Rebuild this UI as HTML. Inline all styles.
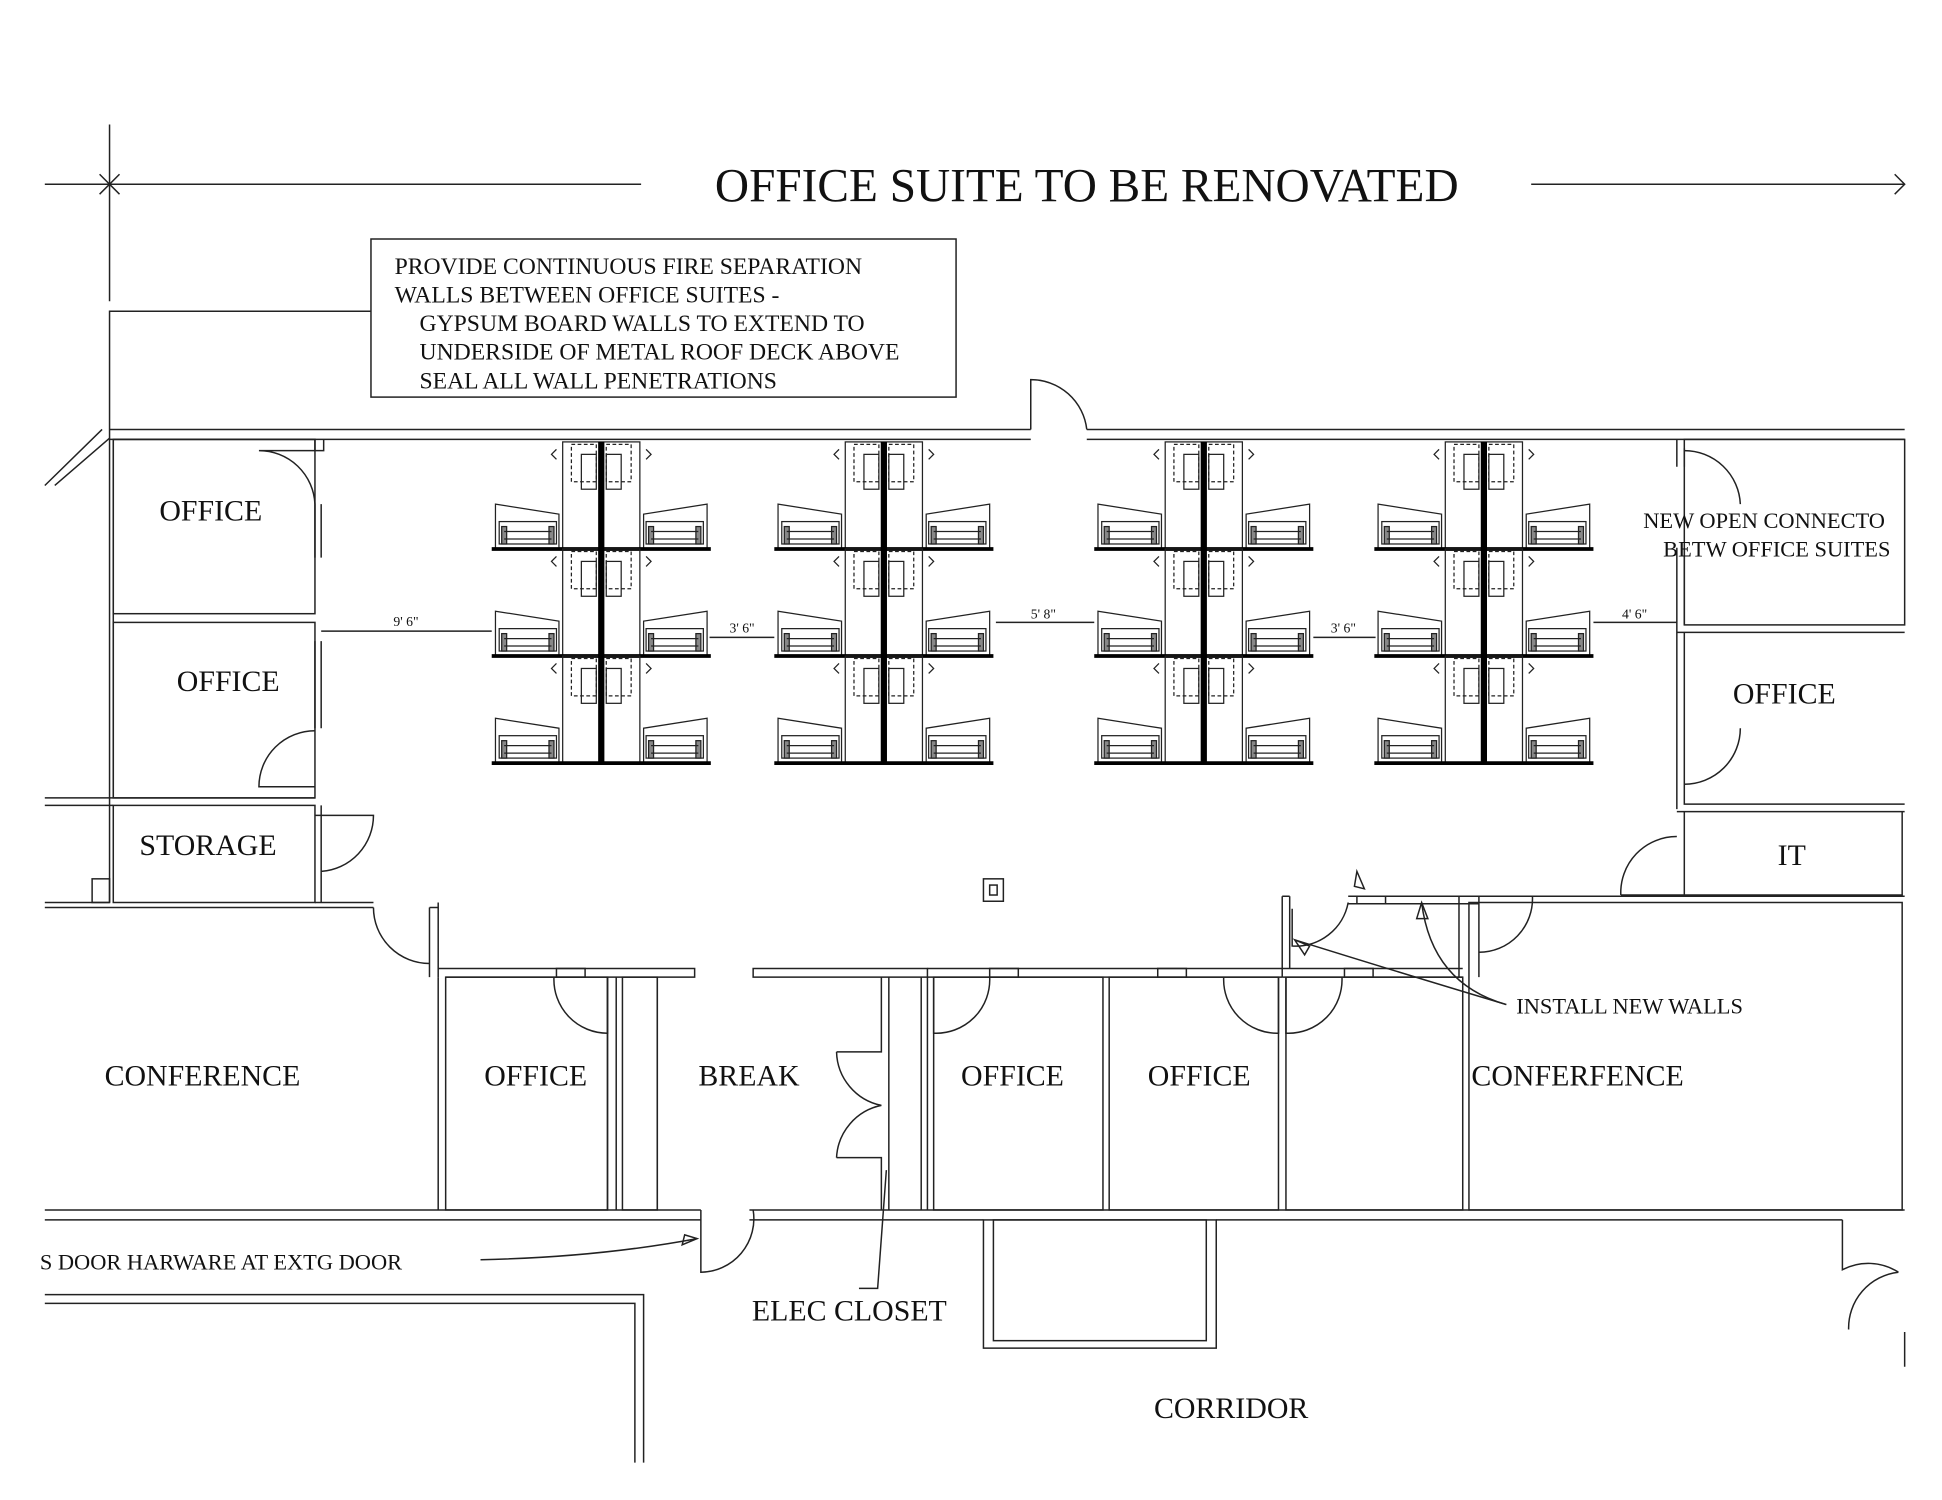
<!DOCTYPE html>
<html><head><meta charset="utf-8"><style>
html,body{margin:0;padding:0;background:#fff;}
svg{display:block;}
text{font-family:"Liberation Serif",serif;fill:#111;}
</style></head><body>
<svg width="1942" height="1500" viewBox="0 0 1560 1205" preserveAspectRatio="none" xmlns="http://www.w3.org/2000/svg">
<defs>
<g id="row" fill="none" stroke="#222" stroke-width="1">
  <rect x="-31" y="0" width="62" height="86"/>
  <rect x="-24" y="2" width="20" height="30" stroke-dasharray="3,2"/>
  <rect x="4" y="2" width="20" height="30" stroke-dasharray="3,2"/>
  <rect x="-16" y="10" width="12" height="28"/>
  <rect x="4" y="10" width="12" height="28"/>
  <path d="M-36 6 l-4 4 l4 4 M36 6 l4 4 l-4 4"/>
  <path d="M-85 86 V50 L-34 58 V86"/>
  <rect x="-82" y="64" width="46" height="18"/>
  <rect x="-80" y="68" width="4" height="14" fill="#888"/>
  <rect x="-42" y="68" width="4" height="14" fill="#888"/>
  <path d="M-78 72 H-40 M-78 78 H-40"/>
  <path d="M85 86 V50 L34 58 V86"/>
  <rect x="36" y="64" width="46" height="18"/>
  <rect x="76" y="68" width="4" height="14" fill="#888"/>
  <rect x="38" y="68" width="4" height="14" fill="#888"/>
  <path d="M40 72 H78 M40 78 H78"/>
  <line x1="-88" y1="86" x2="88" y2="86" stroke="#000" stroke-width="3"/>
</g>
<g id="cl">
  <use href="#row" y="0"/><use href="#row" y="86"/><use href="#row" y="172"/>
  <rect x="-2.5" y="0" width="5" height="258" fill="#000"/>
</g>
</defs>
<rect width="1560" height="1205" fill="#fff"/>
<g fill="none" stroke="#222" stroke-width="1.2">
<!-- title dims -->
<line x1="36" y1="148" x2="515" y2="148"/>
<line x1="80" y1="140" x2="96" y2="156"/><line x1="96" y1="140" x2="80" y2="156"/>
<line x1="88" y1="100" x2="88" y2="242"/>
<line x1="1230" y1="148" x2="1530" y2="148"/>
<path d="M1522 140 L1530 148 L1522 156"/>
<rect x="298" y="192" width="470" height="127"/>
<path d="M298 250 H88 V345"/>
<!-- top wall -->
<path d="M88 345 H828 M88 353 H828 M873 345 H1530 M873 353 H1530"/>
<path d="M828 345 V305 A45 45 0 0 1 873 345"/>
<path d="M36 390 L82 345 M44 390 L88 352"/>
<!-- left wall -->
<path d="M88 345 V725 M91 353 V641"/>
<path d="M91 353 H253 V362 H260 V353"/>
<rect x="91" y="353" width="162" height="140"/>
<rect x="91" y="500" width="162" height="141"/>
<path d="M253 405 V448 M258 405 V448 M253 515 V585 M258 515 V585"/>
<path d="M253 362 H208 A45 45 0 0 1 253 405"/>
<path d="M253 632 H208 A45 45 0 0 1 253 587"/>
<path d="M36 641 H253 M36 647 H91"/>
<rect x="91" y="647" width="162" height="78"/>
<path d="M258 647 V725 M253 655 H300 A45 45 0 0 1 258 700"/>
<rect x="74" y="706" width="14" height="19"/>
<path d="M36 725 H88 M36 729 H300 M253 725 H300"/>
<!-- middle corridor walls -->
<path d="M300 729 A45 45 0 0 0 345 774 M345 729 V785 M352 725 V785 M345 729 H352"/>
<rect x="790" y="706" width="16" height="18"/><rect x="795" y="711" width="6" height="8"/>
<!-- bottom room row -->
<path d="M352 778 H558 V785 H358 M352 785 H352"/>
<path d="M605 778 H745 V785 H605 Z"/>
<path d="M745 778 H1030 M745 785 H1030"/>
<path d="M1030 778 H1175 M1030 785 H1175"/>
<path d="M36 972 H563 M36 980 H563 M602 972 H1530 M602 980 H790 M977 980 H1480"/>
<rect x="358" y="785" width="130" height="187"/>
<path d="M352 785 V972"/>
<rect x="500" y="785" width="28" height="187"/>
<path d="M488 785 V972 M495 785 V972"/>
<path d="M528 785 V972"/>
<path d="M708 785 V845 H672 M708 972 V930 H672 M714 785 V972"/>
<path d="M672 845 A45 45 0 0 0 708 888 A45 45 0 0 0 672 930"/>
<path d="M740 785 V972 M745 785 V972"/>
<rect x="750" y="785" width="136" height="187"/>
<rect x="891" y="785" width="136" height="187"/>
<rect x="1033" y="785" width="142" height="187"/>
<rect x="1180" y="725" width="348" height="247"/>
<!-- office doors bottom -->
<path d="M445 785 A43 43 0 0 0 488 830 V785"/>
<rect x="447" y="778" width="23" height="7"/>
<path d="M750 785 V830 A43 43 0 0 0 795 785"/>
<rect x="795" y="778" width="23" height="7"/>
<path d="M983 785 A43 43 0 0 0 1027 830 V785"/>
<rect x="930" y="778" width="23" height="7"/>
<path d="M1033 785 V830 A43 43 0 0 0 1078 785"/>
<rect x="1080" y="778" width="23" height="7"/>
<!-- new walls area -->
<path d="M1030 720 V785 M1036 720 V778 M1030 720 H1036"/>
<path d="M1038 730 V760 A43 43 0 0 0 1083 725"/>
<path d="M1083 720 H1188 M1083 726 H1188 M1172 720 V785 M1188 720 V785"/>
<rect x="1090" y="720" width="23" height="6"/>
<path d="M1188 765 A43 43 0 0 0 1231 720"/>
<path d="M1180 720 H1530 M1231 720 H1530"/>
<!-- right rooms -->
<path d="M1347 353 V375 M1347 440 V650 M1353 360 V375 M1353 440 V502"/>
<rect x="1353" y="353" width="177" height="149"/>
<path d="M1353 362 A45 45 0 0 1 1398 405"/>
<path d="M1347 508 H1530 M1353 508 V646 H1530"/>
<path d="M1353 630 A45 45 0 0 0 1398 585"/>
<path d="M1347 652 H1530 M1353 652 V719 M1302 719 H1528 V652"/>
<path d="M1302 719 A45 45 0 0 1 1347 672"/>
<!-- lower -->
<path d="M563 972 V1022 A43 43 0 0 0 605 972"/>
<path d="M36 1040 H517 V1175 M36 1047 H510 V1175"/>
<rect x="790" y="980" width="187" height="103"/>
<rect x="798" y="980" width="171" height="97"/>
<path d="M1480 980 V1020 A45 45 0 0 1 1525 1022 M1525 1022 A45 45 0 0 0 1485 1068 M1530 1070 V1098"/>
<!-- leaders -->
<path d="M386 1012 Q480 1010 560 995"/>
<path d="M548 1000 L560 995 L550 992 Z"/>
<path d="M712 940 L705 1035 H690"/>
<path d="M1210 807 Q1120 780 1040 755"/>
<path d="M1040 755 L1048 767 L1052 760 Z"/>
<path d="M1210 807 Q1150 790 1142 725"/>
<path d="M1138 738 L1142 725 L1147 738 Z"/>
<path d="M1090 700 L1096 714 L1088 712 Z"/>
<!-- dims -->
<path d="M258 507 H395 M570 512 H622 M800 500 H879 M1055 512 H1105 M1280 500 H1347"/>
</g>
<use href="#cl" x="483" y="355"/>
<use href="#cl" x="710" y="355"/>
<use href="#cl" x="967" y="355"/>
<use href="#cl" x="1192" y="355"/>
<text x="873" y="162" font-size="38" text-anchor="middle">OFFICE SUITE TO BE RENOVATED</text>
<g font-size="19">
<text x="317" y="220">PROVIDE CONTINUOUS FIRE SEPARATION</text>
<text x="317" y="243">WALLS BETWEEN OFFICE SUITES -</text>
<text x="337" y="266">GYPSUM BOARD WALLS TO EXTEND TO</text>
<text x="337" y="289">UNDERSIDE OF METAL ROOF DECK ABOVE</text>
<text x="337" y="312">SEAL ALL WALL PENETRATIONS</text>
</g>
<g font-size="24">
<text x="128" y="418">OFFICE</text>
<text x="142" y="555">OFFICE</text>
<text x="112" y="687">STORAGE</text>
<text x="1392" y="565">OFFICE</text>
<text x="1428" y="695">IT</text>
<text x="84" y="872">CONFERENCE</text>
<text x="389" y="872">OFFICE</text>
<text x="561" y="872">BREAK</text>
<text x="772" y="872">OFFICE</text>
<text x="922" y="872">OFFICE</text>
<text x="1182" y="872">CONFERFENCE</text>
<text x="604" y="1061">ELEC CLOSET</text>
<text x="927" y="1139">CORRIDOR</text>
</g>
<g font-size="18">
<text x="1320" y="424">NEW OPEN CONNECTO</text>
<text x="1336" y="447">BETW OFFICE SUITES</text>
<text x="1218" y="814">INSTALL NEW WALLS</text>
<text x="32" y="1020">S DOOR HARWARE AT EXTG DOOR</text>
</g>
<g font-size="11">
<text x="316" y="503">9' 6"</text>
<text x="586" y="508">3' 6"</text>
<text x="828" y="497">5' 8"</text>
<text x="1069" y="508">3' 6"</text>
<text x="1303" y="497">4' 6"</text>
</g>
</svg>
</body></html>
